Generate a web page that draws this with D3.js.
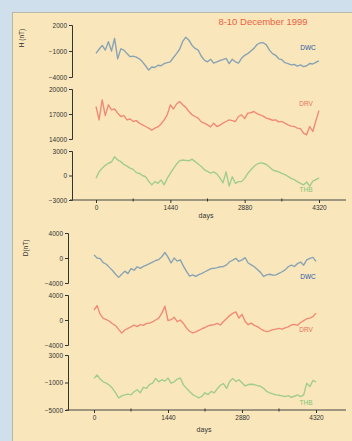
<!DOCTYPE html>
<html>
<head>
<meta charset="utf-8">
<script src="https://cdn.jsdelivr.net/npm/d3@7"></script>
<style>
  html, body { margin: 0; padding: 0; background: #cfe0ec; }
  svg { display: block; }
  .tick text { font-family: "Liberation Sans", Arial, sans-serif; }
</style>
</head>
<body>
<svg id="chart" width="352" height="441"></svg>
<script>
// sample times (days axis), one every 60
var days = d3.range(0, 4321, 60);

// H component (nT)
var hDWC = [-1270,-800,-350,-900,80,-1000,450,-1900,-750,-900,-1300,-1650,-1600,-1700,-1900,-2250,-2700,-3200,-2850,-2900,-2650,-2700,-2450,-2350,-2250,-1750,-1300,-800,100,600,250,-350,-700,-900,-1600,-2050,-2250,-1950,-2400,-2250,-2100,-2000,-1850,-2450,-1950,-2250,-2400,-1850,-1500,-1300,-1000,-700,-250,-60,-50,-300,-900,-1300,-1500,-1900,-2000,-2350,-2450,-2600,-2550,-2750,-2600,-2800,-2700,-2450,-2500,-2300,-2150];
var hDRV = [17900,16300,18700,16800,18100,17500,17600,17100,16700,16800,16300,16400,16100,16200,15900,15700,15500,15300,15050,15300,15450,15800,16300,16900,18100,17600,18200,18500,18100,17800,17300,16900,16700,16500,16050,15900,15700,15450,15900,15500,15650,15900,16100,16300,16200,16100,16700,16900,16450,17100,17150,17300,17050,16900,16750,16500,16400,16250,16300,16050,16100,15900,15700,15550,15500,15300,15250,14700,14500,15500,14900,16200,17400];
var hTHB = [-340,450,900,1250,1500,1650,2300,1900,1700,1350,1150,900,750,350,250,0,-150,-700,-1150,-750,-950,-550,-1150,-350,250,850,1400,1800,1900,1850,1800,2000,1700,1400,1100,700,500,300,450,200,-300,-900,450,-1300,-150,-950,-750,-750,-350,250,700,1100,1400,1550,1500,1350,1050,700,550,450,250,100,-100,-350,-500,-750,-950,-1150,-800,-1300,-700,-500,-300];

// D component (nT)
var dDWC = [500,0,-100,-750,-1000,-1500,-2000,-2600,-3100,-2600,-2100,-2500,-1700,-1950,-1400,-1650,-1350,-1150,-900,-650,-400,-250,200,900,150,-800,0,-500,-300,-1300,-2150,-2900,-2700,-2950,-2650,-2450,-2200,-1950,-1700,-1650,-1550,-1400,-1350,-1100,-600,-350,-50,-550,-300,50,-800,-1100,-1400,-1850,-2300,-2950,-2700,-2600,-2750,-2700,-2450,-2200,-1900,-1400,-1150,-1350,-900,-650,-1150,-300,-50,100,-550];
var dDRV = [1600,2300,900,250,50,-200,-600,-900,-1500,-2100,-1600,-1350,-1100,-800,-1050,-750,-850,-550,-500,-300,0,300,1100,2200,-100,50,450,-250,0,-550,-1300,-1800,-2050,-1900,-1650,-1400,-1200,-950,-800,-750,-550,-800,-250,250,700,1050,1300,300,900,-200,-750,-500,-850,-1050,-1400,-1700,-1850,-1750,-1550,-1450,-1350,-1450,-1250,-1100,-800,-700,-850,-400,-100,200,300,550,1100];
var dTHB = [-400,100,-500,-900,-1100,-1400,-1850,-2500,-3250,-2950,-2800,-2700,-2800,-2350,-2050,-2500,-1700,-1850,-1300,-1100,-400,-900,-600,-800,-350,-1100,-900,-500,-350,-1350,-1850,-2300,-2750,-3000,-3250,-3000,-2500,-2750,-2300,-2500,-1900,-1400,-1150,-1850,-850,-400,-850,-600,-1050,-1500,-1300,-1250,-1300,-1450,-1550,-1850,-2300,-2500,-2650,-2800,-2850,-2950,-3050,-2900,-3150,-3000,-2800,-3050,-2800,-1100,-1600,-700,-900];

var stations = ["DWC", "DRV", "THB"];
var hTicks = [[2000, -1000, -4000], [20000, 17000, 14000], [3000, 0, -3000]];
var dTicks = [[4000, 0, -4000], [4000, 0, -4000], [3000, -1000, -5000]];
var dayTicks = [0, 1440, 2880, 4320];
var dayMinor = [720, 2160, 3600];

var lineColors = ["#8aa3b4", "#f08a76", "#a2cc8e"];
var labelColors = ["#2a56a8", "#e8705e", "#86c472"];

var svg = d3.select("#chart");
var fmt = d3.format("d");

// cream panel
svg.append("rect").attr("x", 12.5).attr("y", 12.5).attr("width", 345).attr("height", 435)
    .attr("fill", "#f9e7bb").attr("stroke", "#b9b6a8").attr("stroke-width", 1);

svg.append("text").attr("x", 263).attr("y", 25).attr("text-anchor", "middle")
    .style("font-family", "Liberation Sans, Arial, sans-serif").style("font-size", "9.5px")
    .attr("fill", "#ec5f43").text("8-10 December 1999");

function drawGroup(opts) {
    var x = d3.scaleLinear().domain([0, 4320]).range(opts.xRange);

    opts.series.forEach(function(vals, k) {
        var tk = opts.ticks[k];
        var y = d3.scaleLinear().domain([tk[2], tk[0]]).range([opts.bands[k][1], opts.bands[k][0]]);

        var ax = svg.append("g").attr("transform", "translate(" + opts.axisX + ",0)")
            .call(d3.axisLeft(y).tickValues(tk).tickFormat(fmt).tickSize(3).tickPadding(2));
        ax.selectAll("text").style("font-size", "6.5px").attr("fill", "#333");
        ax.selectAll("line, path").attr("stroke", "#333");

        svg.append("path").datum(vals)
            .attr("fill", "none").attr("stroke", lineColors[k]).attr("stroke-width", 1.4)
            .attr("stroke-linejoin", "round")
            .attr("d", d3.line().x(function(d, i) { return x(days[i]); }).y(function(d) { return y(d); }));

        svg.append("text").attr("x", opts.labelPos[k][0]).attr("y", opts.labelPos[k][1])
            .attr("text-anchor", "middle")
            .style("font-family", "Liberation Sans, Arial, sans-serif").style("font-size", "6.5px")
            .attr("fill", labelColors[k]).text(stations[k]);
    });

    // days axis
    svg.append("line").attr("x1", opts.axisX - 2).attr("x2", 346)
        .attr("y1", opts.baseY).attr("y2", opts.baseY).attr("stroke", "#444").attr("stroke-width", 1);
    var xa = svg.append("g").attr("transform", "translate(0," + opts.baseY + ")")
        .call(d3.axisBottom(x).tickValues(dayTicks).tickFormat(fmt).tickSize(3).tickPadding(2));
    xa.select(".domain").remove();
    xa.selectAll("text").style("font-size", "6.5px").attr("fill", "#333");
    xa.selectAll("line").attr("stroke", "#333");
    svg.append("g").attr("transform", "translate(0," + opts.baseY + ")")
        .selectAll("line").data(dayMinor).enter().append("line")
        .attr("x1", function(d) { return x(d); }).attr("x2", function(d) { return x(d); })
        .attr("y1", -1.5).attr("y2", 1.5).attr("stroke", "#333");

    svg.append("text").attr("x", opts.daysPos[0]).attr("y", opts.daysPos[1])
        .attr("text-anchor", "middle")
        .style("font-family", "Liberation Sans, Arial, sans-serif").style("font-size", "7px")
        .attr("fill", "#333").text("days");

    svg.append("text")
        .attr("transform", "translate(" + opts.titlePos[0] + "," + opts.titlePos[1] + ") rotate(-90)")
        .attr("text-anchor", "middle")
        .style("font-family", "Liberation Sans, Arial, sans-serif").style("font-size", "6.5px")
        .attr("fill", "#333").text(opts.title);
}

drawGroup({
    series: [hDWC, hDRV, hTHB], ticks: hTicks,
    bands: [[25, 77], [89, 139], [151, 200]],
    xRange: [96, 319], axisX: 72, baseY: 200,
    labelPos: [[308, 50], [306, 106], [306, 192]],
    daysPos: [206, 218], titlePos: [24, 38], title: "H (nT)"
});

drawGroup({
    series: [dDWC, dDRV, dTHB], ticks: dTicks,
    bands: [[233, 283], [295, 345], [355, 410]],
    xRange: [94, 316], axisX: 68, baseY: 410,
    labelPos: [[308, 279], [306, 332], [306, 405]],
    daysPos: [204, 432], titlePos: [28, 248], title: "D(nT)"
});
</script>
</body>
</html>
